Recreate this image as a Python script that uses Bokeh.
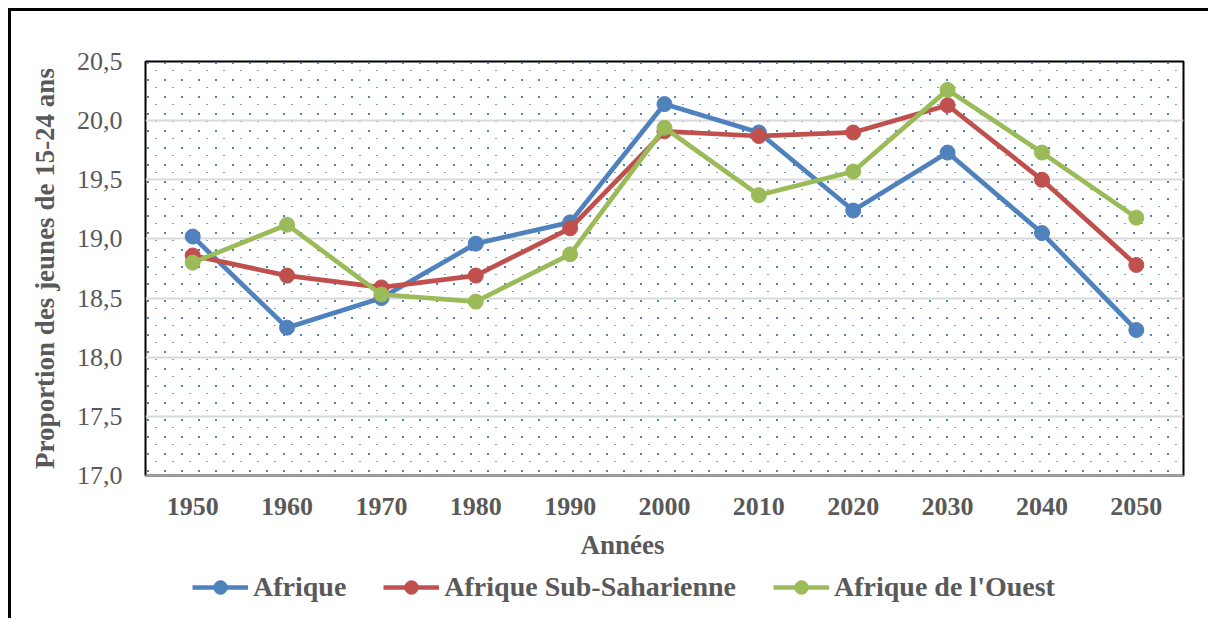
import base64
import struct
import zlib

from bokeh.plotting import figure
from bokeh.layouts import column
from bokeh.models import (FactorRange, Range1d, FixedTicker, CustomJSTickFormatter,
                          Legend, LegendItem, Title, BoxAnnotation, ImageURLTexture)
from bokeh.embed import file_html
from bokeh.resources import INLINE

# ---------------- data ----------------
years = ["1950", "1960", "1970", "1980", "1990", "2000", "2010", "2020", "2030", "2040", "2050"]
afrique = [19.02, 18.25, 18.50, 18.96, 19.14, 20.14, 19.90, 19.24, 19.73, 19.05, 18.23]
afrique_sub_saharienne = [18.86, 18.69, 18.59, 18.69, 19.09, 19.91, 19.87, 19.90, 20.13, 19.50, 18.78]
afrique_ouest = [18.80, 19.12, 18.53, 18.47, 18.87, 19.94, 19.37, 19.57, 20.26, 19.73, 19.18]
series_names = ["Afrique", "Afrique Sub-Saharienne", "Afrique de l'Ouest"]
series_colors = ["#4F81BD", "#C0504D", "#9BBB59"]
y_ticks = [17.0, 17.5, 18.0, 18.5, 19.0, 19.5, 20.0, 20.5]
x_title = "Années"
y_title = "Proportion des jeunes de 15-24 ans"

FONT = "Liberation Serif"
TXT = "#595959"


# ------------- dotted background tile (PNG) -------------
def png_tile(w, h, pixels):
    raw = b""
    for yy in range(h):
        raw += b"\x00"
        for xx in range(w):
            raw += bytes(pixels.get((xx, yy), (255, 255, 255, 0)))

    def chunk(t, d):
        c = struct.pack(">I", len(d)) + t + d
        return c + struct.pack(">I", zlib.crc32(t + d) & 0xFFFFFFFF)

    return (b"\x89PNG\r\n\x1a\n"
            + chunk(b"IHDR", struct.pack(">IIBBBBB", w, h, 8, 6, 0, 0, 0))
            + chunk(b"IDAT", zlib.compress(raw))
            + chunk(b"IEND", b""))


dot = (79, 129, 189, 255)
dot2 = (79, 129, 189, 190)
pix = {(0, 0): dot, (1, 0): dot, (0, 1): dot, (1, 1): dot,
       (8, 8): dot2, (9, 8): dot2}
tile_url = "data:image/png;base64," + base64.b64encode(png_tile(17, 17, pix)).decode()

# ---------------- main figure ----------------
x_range = FactorRange(*years, range_padding=0)
p = figure(frame_width=1038, frame_height=414,
           x_range=x_range, y_range=Range1d(17.0, 20.5),
           output_backend="svg", toolbar_location=None,
           min_border_left=134, min_border_right=25,
           min_border_top=50, min_border_bottom=91)
p.title.visible = False

p.outline_line_color = "black"
p.outline_line_width = 2
p.background_fill_color = "white"

bg = BoxAnnotation(fill_alpha=0, line_color=None, level="image",
                   hatch_pattern="tile", hatch_alpha=1.0,
                   hatch_extra={"tile": ImageURLTexture(url=tile_url, repetition="repeat")})
p.add_layout(bg)

p.xgrid.visible = False
p.ygrid.grid_line_color = "#D9D9D9"
p.ygrid.grid_line_width = 2

# axes
p.yaxis.ticker = FixedTicker(ticks=y_ticks)
p.yaxis.formatter = CustomJSTickFormatter(code="return tick.toFixed(1).replace('.', ',');")
p.yaxis.axis_line_color = None
p.yaxis.major_tick_line_color = None
p.yaxis.minor_tick_line_color = None
p.yaxis.major_label_text_font = FONT
p.yaxis.major_label_text_font_size = "26px"
p.yaxis.major_label_text_color = TXT
p.yaxis.major_label_standoff = 17
p.yaxis.axis_label = y_title
p.yaxis.axis_label_text_font = FONT
p.yaxis.axis_label_text_font_size = "27px"
p.yaxis.axis_label_text_font_style = "bold"
p.yaxis.axis_label_text_color = TXT
p.yaxis.axis_label_standoff = 14

p.xaxis.axis_line_color = "#A6A6A6"
p.xaxis.axis_line_width = 2
p.xaxis.major_tick_line_color = None
p.xaxis.minor_tick_line_color = None
p.xaxis.major_label_text_font = FONT
p.xaxis.major_label_text_font_size = "26px"
p.xaxis.major_label_text_font_style = "bold"
p.xaxis.major_label_text_color = TXT
p.xaxis.major_label_standoff = 16

xt = Title(text=x_title, align="left", offset=435, text_font=FONT, text_font_size="27px",
           text_font_style="bold", text_color=TXT, standoff=20)
p.add_layout(xt, "below")

# ---------------- legend strip (second figure, same x scale) ----------------
leg = figure(width=1197, height=49, x_range=x_range, y_range=Range1d(0, 1),
             output_backend="svg", toolbar_location=None,
             x_axis_type=None, y_axis_type=None,
             min_border_left=0, min_border_right=0, min_border_top=0, min_border_bottom=0)
leg.title.visible = False
leg.outline_line_color = None
leg.xgrid.visible = False
leg.ygrid.visible = False
leg.background_fill_color = "white"

items = []
for name, data, color in zip(series_names, [afrique, afrique_sub_saharienne, afrique_ouest], series_colors):
    p.line(years, data, line_color=color, line_width=4.7)
    p.scatter(years, data, size=15, fill_color=color, line_color=color)
    # legend swatches (their data lie outside the strip's own y range)
    r1 = leg.line(years, data, line_color=color, line_width=4.7)
    r2 = leg.scatter(years, data, size=15, fill_color=color, line_color=color)
    items.append(LegendItem(label=name, renderers=[r1, r2]))

legend = Legend(items=items, orientation="horizontal", location=(47, 14),
                padding=0, margin=0, spacing=37, glyph_width=56, glyph_height=34,
                label_standoff=5, label_text_font=FONT, label_text_font_size="28px",
                label_text_font_style="bold", label_text_color=TXT,
                border_line_color=None, background_fill_alpha=0)
leg.add_layout(legend)

layout = column(p, leg, spacing=0)
layout.styles = {"margin-left": "8px", "margin-top": "8px",
                 "border-left": "3px solid #000", "border-top": "3px solid #000"}

open("out.html", "w").write(file_html(layout, INLINE))
